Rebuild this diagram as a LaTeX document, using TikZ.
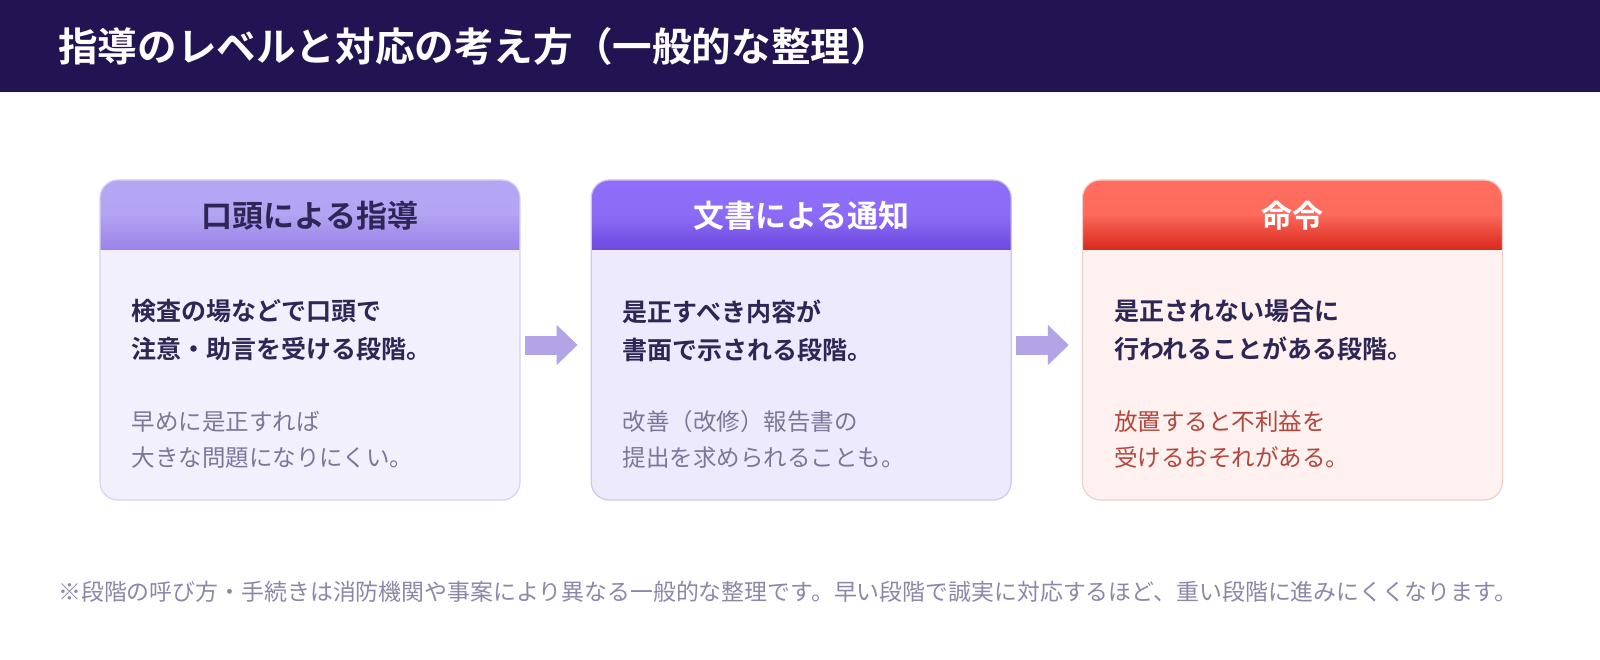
\documentclass[tikz,border=0pt]{standalone}
\usepackage{fontspec}
\setmainfont{Noto Sans CJK JP}[BoldFont={Noto Sans CJK JP Bold}]
\usetikzlibrary{positioning,arrows.meta,calc}
\definecolor{bandnavy}{RGB}{34,20,82}
\definecolor{inktext}{RGB}{46,38,84}
\definecolor{softtext}{RGB}{124,118,153}
\definecolor{warntext}{RGB}{178,70,60}
\definecolor{notetext}{RGB}{140,134,168}
\definecolor{arrowlav}{RGB}{178,164,230}
% lavender card
\definecolor{lavtop}{RGB}{181,166,245}
\definecolor{lavmid}{RGB}{165,147,238}
\definecolor{lavgloss}{RGB}{177,160,242}
\definecolor{lavbot}{RGB}{153,130,232}
\definecolor{lavbody}{RGB}{243,240,254}
\definecolor{lavedge}{RGB}{216,208,245}
% purple card
\definecolor{purtop}{RGB}{142,110,248}
\definecolor{purmid}{RGB}{124,92,238}
\definecolor{purgloss}{RGB}{138,106,245}
\definecolor{purbot}{RGB}{108,72,222}
\definecolor{purbody}{RGB}{238,234,253}
\definecolor{puredge}{RGB}{207,196,242}
% red card
\definecolor{redtop}{RGB}{255,110,95}
\definecolor{redmid}{RGB}{232,78,64}
\definecolor{redgloss}{RGB}{248,100,86}
\definecolor{redbot}{RGB}{218,40,28}
\definecolor{redbody}{RGB}{254,241,240}
\definecolor{rededge}{RGB}{240,207,201}
\tikzset{
  card/.style={rectangle, rounded corners=18pt, minimum width=420pt,
    minimum height=320pt, line width=1.2pt, fill=#1body, draw=#1edge, inner sep=0pt,
    path picture={
      \shade[sharp corners, top color=#1top, bottom color=#1mid] (path picture bounding box.north west)
        rectangle ([yshift=-37pt]path picture bounding box.north east);
      \shade[sharp corners, top color=#1gloss, bottom color=#1bot] ([yshift=-37pt]path picture bounding box.north west)
        rectangle ([yshift=-70pt]path picture bounding box.north east);
    }},
  cardhead/.style={font=\fontsize{31}{31}\selectfont\bfseries, inner sep=0pt},
  leadtext/.style={anchor=west, align=left, inner sep=0pt, text=inktext,
    font=\fontsize{25}{38}\selectfont\bfseries},
  subtext/.style={anchor=west, align=left, inner sep=0pt, text=softtext,
    font=\fontsize{23.5}{36}\selectfont},
  flowarrow/.style={line width=19pt, draw=arrowlav, -{Triangle[length=21pt,width=39pt]}}
}
\begin{document}
\begin{tikzpicture}[x=1pt, y=-1pt]
  \useasboundingbox (0,0) rectangle (1600,660);
  % title band
  \fill[bandnavy] (0,0) rectangle (1600,92);
  \node[anchor=west, inner sep=0pt, text=white, font=\fontsize{39.6}{39.6}\selectfont\bfseries]
    (title) at (58,46) {指導のレベルと対応の考え方（一般的な整理）};

  % the three stages
  \node[card=lav] (oral) at (310,340) {};
  \node[card=pur, right=70pt of oral] (written) {};
  \node[card=red, right=70pt of written] (order) {};

  \node[cardhead, text=inktext] (oralhead) at ([yshift=-36pt]oral.north) {口頭による指導};
  \node[cardhead, text=white] (writtenhead) at ([yshift=-36pt]written.north) {文書による通知};
  \node[cardhead, text=white] (orderhead) at ([yshift=-36pt]order.north) {命令};

  \node[leadtext] (orallead) at ([xshift=32pt,yshift=-151pt]oral.north west)
    {検査の場などで口頭で\\注意・助言を受ける段階。};
  \node[subtext] (oralsub) at ([xshift=32pt,yshift=-260pt]oral.north west)
    {早めに是正すれば\\大きな問題になりにくい。};
  \node[leadtext] (writtenlead) at ([xshift=32pt,yshift=-151pt]written.north west)
    {是正すべき内容が\\書面で示される段階。};
  \node[subtext] (writtensub) at ([xshift=32pt,yshift=-260pt]written.north west)
    {改善（改修）報告書の\\提出を求められることも。};
  \node[leadtext] (orderlead) at ([xshift=32pt,yshift=-151pt]order.north west)
    {是正されない場合に\\行われることがある段階。};
  \node[subtext, text=warntext] (ordersub) at ([xshift=32pt,yshift=-260pt]order.north west)
    {放置すると不利益を\\受けるおそれがある。};

  \draw[flowarrow] ([xshift=4pt,yshift=-5pt]oral.east) -- ([xshift=-13pt,yshift=-5pt]written.west);
  \draw[flowarrow] ([xshift=4pt,yshift=-5pt]written.east) -- ([xshift=-13pt,yshift=-5pt]order.west);

  % footnote
  \node[anchor=west, inner sep=0pt, text=notetext, font=\fontsize{22.9}{22.9}\selectfont]
    (note) at (58,592) {※段階の呼び方・手続きは消防機関や事案により異なる一般的な整理です。早い段階で誠実に対応するほど、重い段階に進みにくくなります。};
\end{tikzpicture}
\end{document}
